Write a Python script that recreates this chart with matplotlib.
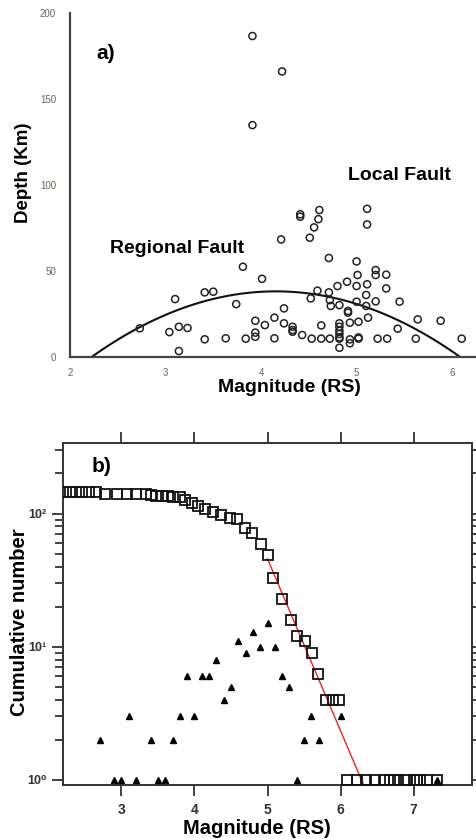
import numpy as np
import matplotlib
matplotlib.use('Agg')
import matplotlib.pyplot as plt
from matplotlib.ticker import NullFormatter, LogLocator

plt.rcParams['font.family'] = ['Liberation Sans', 'DejaVu Sans']

# --- panel a) depth vs magnitude ---
mag_a = [3.91, 4.22, 3.91, 4.41, 4.41, 4.61, 4.60, 4.555, 4.51, 4.21, 5.11, 5.11,
         3.81, 4.71, 5.00, 4.01, 5.01, 5.20, 5.20, 5.31, 4.90, 4.80, 5.00, 5.11,
         5.31, 5.10, 4.59, 4.71, 4.52, 4.72, 5.00, 5.20, 5.45, 5.10, 4.73, 4.82,
         4.91, 4.91, 3.41, 3.50, 3.10, 3.74, 4.24, 3.94, 4.04, 4.14, 4.24, 4.33,
         4.33, 4.33, 4.63, 4.82, 4.82, 4.82, 4.82, 4.82, 4.93, 5.02, 5.12, 5.43,
         5.64, 5.88, 2.73, 3.04, 3.14, 3.23, 3.94, 3.94, 3.41, 3.63, 3.84, 4.14,
         4.43, 4.53, 4.63, 4.72, 4.82, 4.93, 4.93, 5.02, 5.02, 5.22, 5.32, 5.62,
         6.10, 4.82, 3.14]
depth_a = [186.5, 165.9, 134.7, 82.8, 81.4, 85.3, 80.0, 75.2, 69.2, 68.2, 86.0, 76.9,
           52.3, 57.4, 55.4, 45.3, 47.5, 50.4, 47.5, 47.7, 43.6, 41.1, 41.1, 42.1,
           39.7, 35.9, 38.4, 37.4, 33.9, 32.9, 32.0, 32.2, 32.0, 29.5, 29.5, 30.0,
           26.6, 25.6, 37.4, 37.8, 33.5, 30.6, 28.1, 20.9, 18.4, 22.7, 19.4, 17.4,
           15.5, 14.5, 18.2, 19.4, 17.4, 15.1, 13.2, 11.2, 19.8, 20.3, 22.7, 16.3,
           21.7, 20.9, 16.5, 14.3, 17.4, 16.7, 14.0, 11.6, 10.1, 10.7, 10.5, 10.7,
           12.6, 10.5, 10.5, 10.5, 10.5, 10.1, 7.8, 11.2, 10.5, 10.5, 10.5, 10.5,
           10.5, 5.2, 3.3]
# parabola fit: roots and peak depth
fit_roots = [2.23, 6.08]
fit_peak = 38.0

# --- panel b) frequency-magnitude ---
mag_cum = [2.20, 2.29, 2.38, 2.46, 2.55, 2.65, 2.78, 2.94, 3.07, 3.20, 3.33, 3.40,
           3.48, 3.56, 3.64, 3.71, 3.80, 3.87, 3.96, 4.05, 4.14, 4.26, 4.37, 4.49,
           4.58, 4.69, 4.79, 4.91, 5.00, 5.08, 5.20, 5.32, 5.41, 5.51, 5.61, 5.69,
           5.80, 5.895, 5.985, 6.09, 6.22, 6.35, 6.47, 6.59, 6.68, 6.73, 6.78, 6.89,
           7.00, 7.05, 7.09, 7.18, 7.32]
n_cum = [144, 144, 144, 144, 144, 144, 141, 141, 141, 140, 140, 137,
         135, 135, 135, 134, 133, 127, 120, 114, 108, 102, 98, 93,
         91, 78, 71, 59, 49, 33, 23, 16, 12, 11, 9, 6.2,
         4, 4, 4, 1, 1, 1, 1, 1, 1, 1, 1, 1,
         1, 1, 1, 1, 1]
mag_nc = [2.7, 2.9, 3.0, 3.1, 3.2, 3.4, 3.5, 3.6, 3.7, 3.8, 3.9, 4.0, 4.1, 4.2,
          4.3, 4.4, 4.5, 4.6, 4.7, 4.8, 4.9, 5.0, 5.1, 5.2, 5.3, 5.4, 5.5, 5.6,
          5.7, 6.0, 7.32]
n_nc = [2, 1, 1, 3, 1, 2, 1, 1, 2, 3, 6, 3, 6, 6,
        8, 4, 5, 11, 9, 13, 10, 15, 10, 6, 5, 1, 2, 3,
        2, 3, 1]
# Gutenberg-Richter fit log N = a - b M
gr_a = 8.11
gr_b = 1.29
gr_range = [5.0, 6.4]

fig = plt.figure(figsize=(4.76, 8.39), dpi=100)

# ---------- a) ----------
ax1 = fig.add_axes([70/476, (839-356.7)/839, 406/476, 343.9/839])
ax1.scatter(mag_a, depth_a, s=26, facecolors='none', edgecolors='#222222', linewidths=1.1, zorder=3)
xf = np.linspace(fit_roots[0], fit_roots[1], 200)
mid = (fit_roots[0] + fit_roots[1]) / 2
half = (fit_roots[1] - fit_roots[0]) / 2
ax1.plot(xf, fit_peak * (1 - ((xf - mid) / half) ** 2), color='#111111', lw=1.5)
ax1.set_xlim(2, 6.25)
ax1.set_ylim(0, 200)
ax1.set_xticks([2, 3, 4, 5, 6])
ax1.set_yticks([0, 50, 100, 150, 200])
for s in ['top', 'right']:
    ax1.spines[s].set_visible(False)
for s in ['left', 'bottom']:
    ax1.spines[s].set_color('#444444')
    ax1.spines[s].set_linewidth(1.6)
ax1.tick_params(length=0, labelsize=7, labelcolor='#6b6450')
ax1.tick_params(axis='y', pad=10)
ax1.tick_params(axis='x', pad=8)
ax1.set_xlabel('Magnitude (RS)', fontsize=14, fontweight='bold')
ax1.xaxis.set_label_coords(0.54, -0.066)
ax1.set_ylabel('Depth (Km)', fontsize=13.5, fontweight='bold')
ax1.yaxis.set_label_coords(-0.094, 0.534)
ax1.text(2.28, 176.6, 'a)', fontsize=15, fontweight='bold', va='center')
ax1.text(4.91, 105.6, 'Local Fault', fontsize=14, fontweight='bold', va='center')
ax1.text(2.42, 63.2, 'Regional Fault', fontsize=14, fontweight='bold', va='center')

# ---------- b) ----------
ax2 = fig.add_axes([63/476, 54/839, 409/476, 342.3/839])
ax2.set_yscale('log')
ax2.plot(mag_cum, n_cum, ls='none', marker='s', ms=7, mfc='none', mec='#111111', mew=1.3, zorder=3)
ax2.plot(mag_nc, n_nc, ls='none', marker='^', ms=4.5, color='black', zorder=4)
xg = np.array(gr_range)
ax2.plot(xg, 10 ** (gr_a - gr_b * xg), color='#ee2222', lw=1.0, zorder=2)
ax2.set_xlim(2.2, 7.8)
ax2.set_ylim(0.917, 340)
ax2.set_xticks([3, 4, 5, 6, 7])
ax2.set_yticks([1, 10, 100])
ax2.set_yticklabels(['10\u2070', '10\u00b9', '10\u00b2'])
ax2.yaxis.set_minor_locator(LogLocator(base=10, subs=np.arange(2, 10), numticks=10))
ax2.yaxis.set_minor_formatter(NullFormatter())
for s in ax2.spines.values():
    s.set_color('#333333')
    s.set_linewidth(1.4)
ax2.tick_params(which='both', direction='out', color='#333333', width=1.3,
                top=True, right=True, labeltop=False, labelright=False)
ax2.tick_params(which='major', length=8)
ax2.tick_params(which='minor', length=6)
ax2.tick_params(axis='x', which='minor', bottom=False, top=False)
ax2.tick_params(axis='x', labelsize=10, pad=5)
ax2.tick_params(axis='y', labelsize=9, pad=4)
for lbl in ax2.get_xticklabels() + ax2.get_yticklabels():
    lbl.set_fontweight('bold')
    lbl.set_color('#333333')
ax2.set_xlabel('Magnitude (RS)', fontsize=14.5, fontweight='bold')
ax2.xaxis.set_label_coords(0.474, -0.1)
ax2.set_ylabel('Cumulative number', fontsize=14.5, fontweight='bold')
ax2.yaxis.set_label_coords(-0.083, 0.476)
ax2.text(0.071, 0.93, 'b)', transform=ax2.transAxes, fontsize=15, fontweight='bold', va='center')

fig.savefig('out.png', dpi=100)
